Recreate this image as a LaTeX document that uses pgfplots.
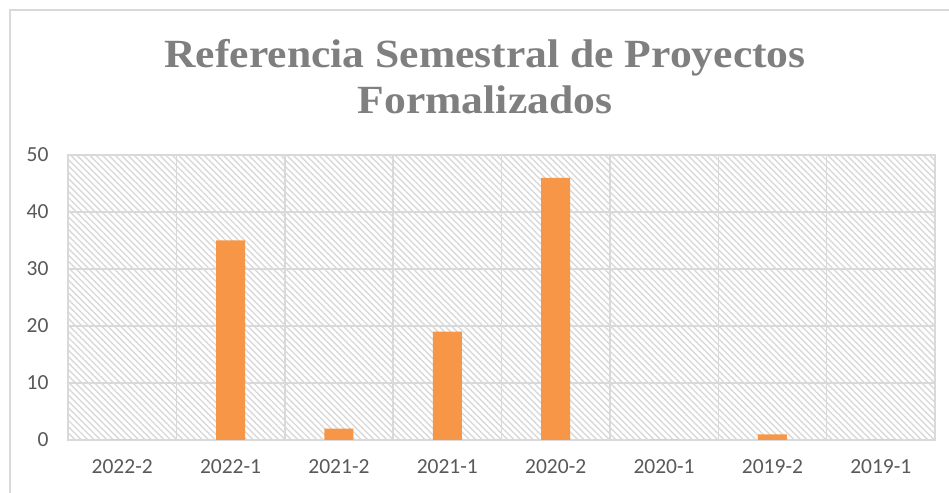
\documentclass[border=0pt]{standalone}
\usepackage{pgfplots}
\pgfplotsset{compat=1.18}
\usepackage{fontspec}
\setmainfont{Carlito}
\newfontfamily\titlefont{Liberation Serif}
\usetikzlibrary{patterns.meta}
\definecolor{barorange}{HTML}{F79646}
\definecolor{gridgray}{HTML}{D9D9D9}
\definecolor{ticktext}{HTML}{595959}
\definecolor{titlegray}{HTML}{7F7F7F}
\begin{document}
\begin{tikzpicture}[x=1pt,y=1pt]
\useasboundingbox (0,0) rectangle (949,492);
\fill[white] (0,0) rectangle (949,492);
\draw[gridgray, line width=1.2pt] (10,-5) rectangle (960,482);
\begin{axis}[
  at={(68pt,52pt)}, anchor=south west,
  scale only axis, width=867pt, height=285pt,
  xmin=-0.5, xmax=7.5, ymin=0, ymax=50,
  ytick={0,10,...,50},
  xtick={0,...,7},
  xticklabels={2022-2,2022-1,2021-2,2021-1,2020-2,2020-1,2019-2,2019-1},
  minor xtick={-0.5,0.5,...,7.5},
  minor x grid style={gridgray, line width=1.5pt},
  xminorgrids=true,
  ymajorgrids=true,
  major grid style={gridgray, line width=1.5pt},
  axis line style={gridgray, line width=1.5pt},
  major tick length=0pt, minor tick length=0pt,
  tick style={draw=none},
  /pgf/number format/assume math mode=true,
  ticklabel style={font=\fontsize{21.5}{25}\selectfont, text=ticktext},
  xticklabel style={yshift=-16pt},
  yticklabel style={xshift=-16pt},
  axis background/.style={pattern={Lines[angle=-45, distance=4.5pt, line width=1.4pt]}, pattern color=gridgray},
  ybar, bar width=29pt,
  clip=false,
]
\addplot[fill=barorange, draw=none] coordinates {
  (0,0) (1,35) (2,2) (3,19) (4,46) (5,0) (6,1) (7,0)
};
\end{axis}
\node[anchor=base, text=titlegray, xscale=1.09, font=\titlefont\bfseries\fontsize{40}{42}\selectfont] at (485,424) {Referencia Semestral de Proyectos};
\node[anchor=base, text=titlegray, xscale=1.09, font=\titlefont\bfseries\fontsize{40}{42}\selectfont] at (485,378) {Formalizados};
\end{tikzpicture}
\end{document}
